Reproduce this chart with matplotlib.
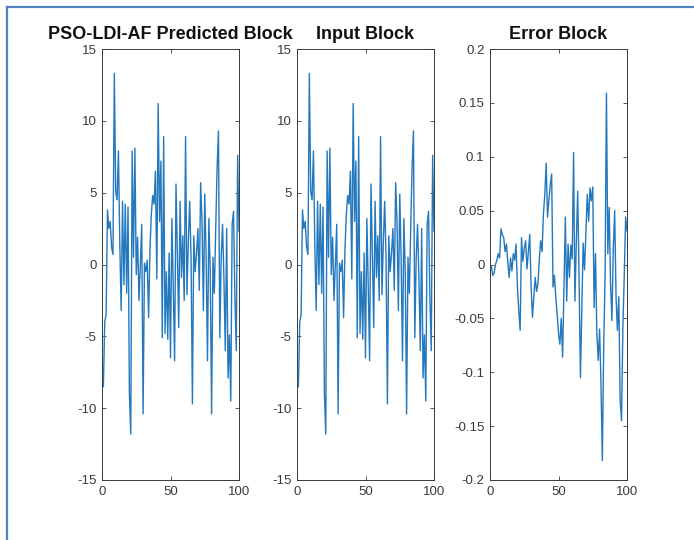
#! /usr/bin/env python

# plot.py
# three panel block comparison, matlab style

import matplotlib
matplotlib.use('Agg')
import matplotlib.pyplot as plt
from matplotlib.lines import Line2D

plt.rcParams['font.family'] = ['Liberation Sans', 'DejaVu Sans']

# sample index
samples = list(range(1, 101))

# input block values
input_block = [
    -8.5, -4.0, -3.5, 3.8, 2.5, 3.0, 1.2, 0.7, 13.3, 5.1,
    4.5, 7.9, 1.4, -3.2, 4.4, -1.4, 4.2, -2.0, 4.0, -9.0,
    -11.8, 7.9, 0.5, 8.1, -0.7, 1.9, -2.5, 0.0, 2.8, -10.4,
    0.1, -0.5, 0.3, -3.7, 1.0, 3.5, 4.8, 4.2, 6.5, -1.0,
    11.2, 3.0, 7.2, -5.1, 8.9, -4.8, -0.5, -5.2, 0.8, -6.5,
    3.2, -1.5, -6.7, 5.6, 0.8, -4.4, 4.4, -0.9, 2.0, -2.5,
    8.9, -2.1, 1.5, 4.4, 0.5, -9.7, 2.0, -0.5, 0.8, 2.5,
    -1.8, 5.7, 3.0, -3.2, 4.9, 0.5, -6.7, 3.2, -0.5, -10.4,
    0.5, -2.0, 2.5, 6.7, 9.3, -5.1, 0.5, 2.8, -1.0, -6.0,
    2.5, -7.9, -4.9, -9.5, 2.8, 3.7, -2.3, -6.0, 7.6, 2.3,
]

# predicted block (differs from input only by the tiny error)
predicted_block = [
    -8.5, -4.0, -3.5, 3.8, 2.5, 3.0, 1.2, 0.7, 13.3, 5.1,
    4.5, 7.9, 1.4, -3.2, 4.4, -1.4, 4.2, -2.0, 4.0, -9.0,
    -11.8, 7.9, 0.5, 8.1, -0.7, 1.9, -2.5, 0.0, 2.8, -10.4,
    0.1, -0.5, 0.3, -3.7, 1.0, 3.5, 4.8, 4.2, 6.5, -1.0,
    11.2, 3.0, 7.2, -5.1, 8.9, -4.8, -0.5, -5.2, 0.8, -6.5,
    3.2, -1.5, -6.7, 5.6, 0.8, -4.4, 4.4, -0.9, 2.0, -2.5,
    8.9, -2.1, 1.5, 4.4, 0.5, -9.7, 2.0, -0.5, 0.8, 2.5,
    -1.8, 5.7, 3.0, -3.2, 4.9, 0.5, -6.7, 3.2, -0.5, -10.4,
    0.5, -2.0, 2.5, 6.7, 9.3, -5.1, 0.5, 2.8, -1.0, -6.0,
    2.5, -7.9, -4.9, -9.5, 2.8, 3.7, -2.3, -6.0, 7.6, 2.3,
]

# error block values
error_block = [
    -0.002, -0.010, -0.008, 0.000, 0.004, 0.010, 0.006, 0.033, 0.028, 0.025,
    0.012, 0.019, 0.002, -0.012, 0.006, -0.006, 0.010, 0.004, 0.019, -0.020,
    -0.043, -0.061, 0.025, 0.003, 0.015, 0.022, -0.004, 0.012, 0.028, -0.020,
    -0.049, -0.030, -0.012, -0.025, -0.018, 0.005, 0.022, 0.012, 0.047, 0.065,
    0.094, 0.044, 0.060, 0.074, 0.084, -0.021, -0.010, -0.030, -0.046, -0.064,
    -0.074, -0.050, -0.086, -0.020, 0.044, -0.034, 0.019, -0.012, 0.018, 0.005,
    0.104, -0.034, 0.020, 0.068, -0.010, -0.105, -0.043, 0.020, -0.005, 0.030,
    0.065, 0.040, 0.071, 0.059, 0.072, -0.040, 0.010, -0.064, -0.089, -0.060,
    -0.110, -0.182, -0.075, -0.012, 0.159, 0.010, 0.053, -0.018, -0.052, 0.015,
    0.050, -0.030, -0.061, -0.030, -0.126, -0.145, -0.058, -0.010, 0.044, 0.031,
]

titles = ['PSO-LDI-AF Predicted Block', 'Input Block', 'Error Block']
x_ticks = [0, 50, 100]
big_ticks = [-15, -10, -5, 0, 5, 10, 15]
big_labels = ['-15', '-10', '-5', '0', '5', '10', '15']
err_ticks = [-0.2, -0.15, -0.1, -0.05, 0, 0.05, 0.1, 0.15, 0.2]
err_labels = ['-0.2', '-0.15', '-0.1', '-0.05', '0', '0.05', '0.1', '0.15', '0.2']

line_color = '#2478bd'
axis_color = '#3a3a3a'

fig = plt.figure(figsize=(6.94, 5.40), dpi=100)

lefts = [102 / 694, 297 / 694, 490 / 694]
width = 137 / 694
bottom = (540 - 480) / 540
height = 431 / 540

series = [predicted_block, input_block, error_block]
for i in range(3):
    ax = fig.add_axes([lefts[i], bottom, width, height])
    ax.plot(samples, series[i], color=line_color, linewidth=1.0)
    ax.set_xlim(0, 100)
    ax.set_xticks(x_ticks)
    if i < 2:
        ax.set_ylim(-15, 15)
        ax.set_yticks(big_ticks)
        ax.set_yticklabels(big_labels)
    else:
        ax.set_ylim(-0.2, 0.2)
        ax.set_yticks(err_ticks)
        ax.set_yticklabels(err_labels)
    ax.tick_params(direction='in', length=3, width=0.6, colors=axis_color,
                   labelsize=9.5, top=True, right=True, pad=4)
    for s in ax.spines.values():
        s.set_color(axis_color)
        s.set_linewidth(0.7)
    ax.set_title(titles[i], fontsize=13, fontweight='bold',
                 color='#111111', pad=7)

# blue frame on the top and left edges
fig.add_artist(Line2D([6.5 / 694, 1.0], [1 - 6.5 / 540, 1 - 6.5 / 540],
                      color='#4f81bd', linewidth=1.6, transform=fig.transFigure))
fig.add_artist(Line2D([6.5 / 694, 6.5 / 694], [0.0, 1 - 6.5 / 540],
                      color='#4f81bd', linewidth=1.6, transform=fig.transFigure))

plt.savefig('out.png', dpi=100)
